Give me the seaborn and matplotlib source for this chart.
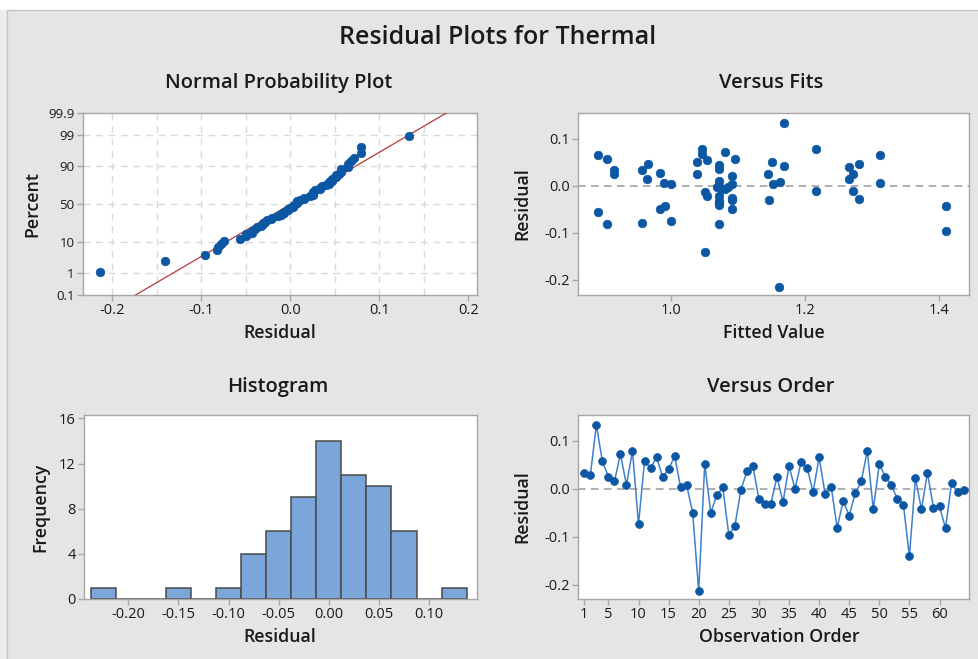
import numpy as np
import pandas as pd
import matplotlib
matplotlib.use("Agg")
import matplotlib.pyplot as plt
from matplotlib.patches import Rectangle
from matplotlib.ticker import FixedLocator
import seaborn as sns
from statistics import NormalDist

# ---------------- data ----------------
residuals = [0.033, 0.028, 0.133, 0.057, 0.025, 0.015, 0.072, 0.008, 0.079, -0.074,
             0.057, 0.043, 0.065, 0.025, 0.040, 0.068, 0.003, 0.007, -0.050, -0.214,
             0.051, -0.050, -0.014, 0.003, -0.096, -0.078, -0.003, 0.036, 0.047, -0.022,
             -0.031, -0.031, 0.025, -0.028, 0.047, 0.000, 0.055, 0.044, -0.007, 0.065,
             -0.011, 0.004, -0.081, -0.026, -0.056, -0.010, 0.015, 0.079, -0.043, 0.051,
             0.025, 0.007, -0.021, -0.033, -0.141, 0.022, -0.043, 0.033, -0.040, -0.037,
             -0.082, 0.011, -0.007, -0.003]
fitted = [0.915, 0.984, 1.169, 1.096, 0.915, 0.965, 1.081, 1.163, 1.047, 1.001,
          0.905, 1.169, 0.892, 1.039, 1.266, 1.047, 1.091, 1.312, 0.984, 1.162,
          1.039, 1.091, 1.051, 1.153, 1.411, 0.958, 1.085, 1.072, 1.281, 1.055,
          1.091, 1.147, 1.145, 1.281, 0.966, 1.072, 1.055, 1.072, 1.081, 1.312,
          1.217, 1.001, 1.072, 1.091, 0.892, 1.272, 1.266, 1.217, 1.411, 1.151,
          1.272, 0.990, 1.072, 1.072, 1.052, 1.091, 0.991, 0.958, 1.072, 1.072,
          0.905, 1.072, 1.076, 1.070]
observation = list(range(1, len(residuals) + 1))

prob_tick_labels = ["0.1", "1", "10", "50", "90", "99", "99.9"]
prob_tick_values = [0.1, 1, 10, 50, 90, 99, 99.9]
prob_grid_values = [1, 10, 50, 90, 99]
resid_ticks_prob = [-0.2, -0.1, 0.0, 0.1, 0.2]
fit_ticks = [1.0, 1.2, 1.4]
hist_xticks = [-0.20, -0.15, -0.10, -0.05, 0.00, 0.05, 0.10]
hist_yticks = [0, 4, 8, 12, 16]
resid_ticks = [-0.2, -0.1, 0.0, 0.1]
order_ticks = [1, 5, 10, 15, 20, 25, 30, 35, 40, 45, 50, 55, 60]

df = pd.DataFrame({"Residual": residuals, "Fitted": fitted, "Order": observation})

# ---------------- style ----------------
plt.rcParams['font.family'] = ['Open Sans', 'DejaVu Sans']
BG = "#E5E5E5"
BLUE = "#0B57A4"
LINE_BLUE = "#3D80CC"
SPINE = "#A6A6A6"
GRID = "#DADADA"
TXT = "#1A1A1A"

W, H = 979, 659
fig = plt.figure(figsize=(W / 100, H / 100), dpi=100, facecolor="white")
fig.patches.append(Rectangle((0, 0), 7 / W, 1 - 10 / H, transform=fig.transFigure,
                             facecolor="#EDEDED", edgecolor="none", zorder=-2))
fig.patches.append(Rectangle((7 / W, -0.01), 1.0, 1 - 10 / H + 0.01, transform=fig.transFigure,
                             facecolor=BG, edgecolor="#C4C4C4", lw=1, zorder=-1))


def px_axes(left, top, right, bottom):
    return fig.add_axes([left / W, 1 - bottom / H, (right - left) / W, (bottom - top) / H])


def style(ax):
    ax.set_facecolor("white")
    for s in ax.spines.values():
        s.set_color(SPINE)
        s.set_linewidth(1.0)
    ax.tick_params(axis="both", colors=SPINE, labelcolor=TXT, labelsize=10.5, length=4, width=1,
                   pad=2)
    ax.set_xlabel("")
    ax.set_ylabel("")


def ftext(x, y, s, **kw):
    fig.text(x / W, 1 - y / H, s, ha="center", va="center", color=TXT, **kw)


SUB = 14.5
LAB = 12.8
ftext(498, 37, "Residual Plots for Thermal", fontsize=18, fontweight="semibold")

# ---------------- Normal probability plot ----------------
nd = NormalDist()
ax1 = px_axes(83, 113, 477, 295)
style(ax1)
n = len(residuals)
sorted_res = np.sort(np.array(residuals))
ranks = np.arange(1, n + 1)
z = np.array([nd.inv_cdf((i - 0.3) / (n + 0.4)) for i in ranks])
mu = float(np.mean(residuals))
sd = float(np.std(residuals, ddof=1))
zlim = (nd.inv_cdf(0.001), nd.inv_cdf(0.999))
line_df = pd.DataFrame({"x": [mu + zlim[0] * sd, mu + zlim[1] * sd], "z": list(zlim)})
sns.lineplot(data=line_df, x="x", y="z", ax=ax1, color="#B23A3A", lw=0.9, zorder=3)
sns.scatterplot(x=sorted_res, y=z, ax=ax1, color=BLUE, s=38, edgecolor=BLUE, linewidth=0.5,
                zorder=4)
ax1.set_xlim(-0.233, 0.2098)
ax1.set_ylim(*zlim)
ax1.set_yticks([nd.inv_cdf(v / 100) for v in prob_tick_values])
ax1.set_yticklabels(prob_tick_labels)
ax1.tick_params(axis="y", labelsize=9.5)
ax1.set_xticks(resid_ticks_prob)
ax1.set_xticklabels(["-0.2", "-0.1", "0.0", "0.1", "0.2"])
ax1.xaxis.set_minor_locator(FixedLocator([-0.15, -0.05, 0.05, 0.15]))
ax1.tick_params(axis="x", which="minor", length=0)
for v in [-0.2, -0.15, -0.1, -0.05, 0.0, 0.05, 0.1, 0.15]:
    ax1.axvline(v, color=GRID, lw=1, ls=(0, (5, 4)), zorder=1)
for v in prob_grid_values:
    ax1.axhline(nd.inv_cdf(v / 100), color=GRID, lw=1, ls=(0, (5, 4)), zorder=1)
ax1.set_xlabel("")
ax1.set_ylabel("")
ftext(279, 83, "Normal Probability Plot", fontsize=SUB, fontweight="semibold")
ftext(280, 333, "Residual", fontsize=LAB, fontweight="semibold")
ftext(32, 204, "Percent", fontsize=LAB, fontweight="semibold", rotation=90)

# ---------------- Versus fits ----------------
ax2 = px_axes(578, 113, 969, 295)
style(ax2)
ax2.axhline(0, color="#9A9A9A", lw=1.1, ls=(0, (5, 3.5)), zorder=1)
sns.scatterplot(data=df, x="Fitted", y="Residual", ax=ax2, color=BLUE, s=38, edgecolor=BLUE,
                linewidth=0.5, zorder=3)
ax2.set_xlim(0.862, 1.445)
ax2.set_ylim(-0.232, 0.155)
ax2.set_xticks(fit_ticks)
ax2.set_xticklabels(["1.0", "1.2", "1.4"])
ax2.set_yticks(resid_ticks)
ax2.set_yticklabels(["-0.2", "-0.1", "0.0", "0.1"])
ax2.set_xlabel("")
ax2.set_ylabel("")
ftext(771, 83, "Versus Fits", fontsize=SUB, fontweight="semibold")
ftext(774, 333, "Fitted Value", fontsize=LAB, fontweight="semibold")
ftext(522, 204, "Residual", fontsize=LAB, fontweight="semibold", rotation=90)

# ---------------- Histogram ----------------
ax3 = px_axes(84, 415, 477, 599)
style(ax3)
sns.histplot(data=df, x="Residual", ax=ax3, binwidth=0.025, binrange=(-0.2375, 0.1375),
             color="#7BA6DA", edgecolor="#4A4A4A", linewidth=1.1, alpha=1.0, zorder=2)
ax3.set_xlim(-0.2442, 0.1478)
ax3.set_ylim(0, 16.3)
ax3.set_xticks(hist_xticks)
ax3.set_xticklabels(["-0.20", "-0.15", "-0.10", "-0.05", "0.00", "0.05", "0.10"])
ax3.set_yticks(hist_yticks)
ax3.set_xlabel("")
ax3.set_ylabel("")
ftext(278, 387, "Histogram", fontsize=SUB, fontweight="semibold")
ftext(280, 637, "Residual", fontsize=LAB, fontweight="semibold")
ftext(40, 507, "Frequency", fontsize=LAB, fontweight="semibold", rotation=90)

# ---------------- Versus order ----------------
ax4 = px_axes(578, 415, 969, 599)
style(ax4)
ax4.axhline(0, color="#9A9A9A", lw=1.1, ls=(0, (5, 3.5)), zorder=1)
sns.lineplot(data=df, x="Order", y="Residual", ax=ax4, color=LINE_BLUE, lw=1.1, zorder=2)
sns.scatterplot(data=df, x="Order", y="Residual", ax=ax4, color=BLUE, s=32, edgecolor=BLUE,
                linewidth=0.5, zorder=3)
ax4.set_xlim(-0.05, 64.9)
ax4.set_ylim(-0.2298, 0.1535)
ax4.set_xticks(order_ticks)
ax4.set_yticks(resid_ticks)
ax4.set_yticklabels(["-0.2", "-0.1", "0.0", "0.1"])
ax4.set_xlabel("")
ax4.set_ylabel("")
ftext(771, 387, "Versus Order", fontsize=SUB, fontweight="semibold")
ftext(779, 637, "Observation Order", fontsize=LAB, fontweight="semibold")
ftext(522, 507, "Residual", fontsize=LAB, fontweight="semibold", rotation=90)

fig.savefig("out.png", dpi=100, facecolor=fig.get_facecolor())
